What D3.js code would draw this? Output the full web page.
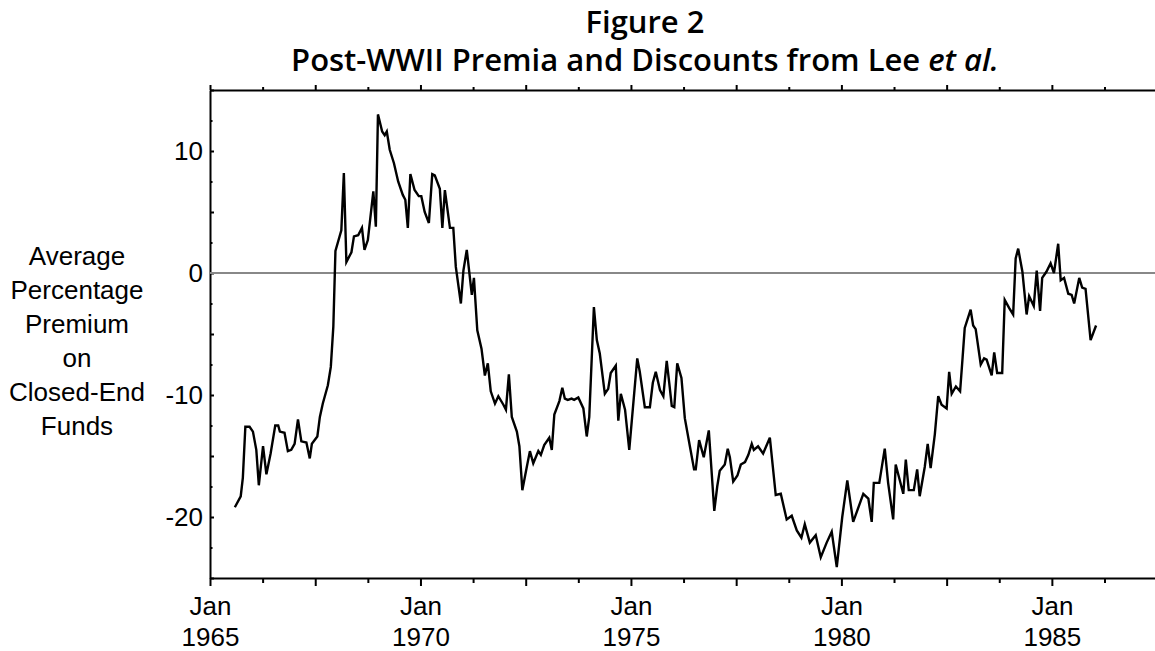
<!DOCTYPE html>
<html>
<head>
<meta charset="utf-8">
<script src="https://cdn.jsdelivr.net/npm/d3@7"></script>
<style>
  body { margin: 0; background: #fff; }
  svg { display: block; }
  .axis path, .axis line { stroke: #000; stroke-width: 2; }
  .axis text { font-family: "Liberation Sans", Arial, sans-serif; font-size: 26px; fill: #000; }
</style>
</head>
<body>
<svg id="chart" width="1155" height="651"></svg>
<script>
// decimal year of each point
var years = [1965.59, 1965.73, 1965.78, 1965.84, 1965.94, 1966.02, 1966.10, 1966.16, 1966.26, 1966.34,
  1966.44, 1966.55, 1966.62, 1966.66, 1966.77, 1966.85, 1966.93, 1967.01, 1967.09, 1967.17,
  1967.29, 1967.37, 1967.42, 1967.55, 1967.61, 1967.68, 1967.80, 1967.87, 1967.93, 1967.98,
  1968.12, 1968.18, 1968.24, 1968.36, 1968.42, 1968.52, 1968.61, 1968.67, 1968.75, 1968.88,
  1968.94, 1968.99, 1969.09, 1969.15, 1969.20, 1969.27, 1969.37, 1969.47, 1969.58, 1969.64,
  1969.70, 1969.76, 1969.86, 1969.96, 1970.02, 1970.10, 1970.20, 1970.28, 1970.34, 1970.46,
  1970.52, 1970.58, 1970.70, 1970.78, 1970.84, 1970.96, 1971.02, 1971.10, 1971.22, 1971.27,
  1971.35, 1971.45, 1971.53, 1971.60, 1971.67, 1971.77, 1971.85, 1971.97, 1972.03, 1972.10,
  1972.17, 1972.29, 1972.35, 1972.42, 1972.52, 1972.60, 1972.68, 1972.80, 1972.86, 1972.94,
  1973.06, 1973.12, 1973.18, 1973.30, 1973.37, 1973.43, 1973.50, 1973.59, 1973.65, 1973.75,
  1973.87, 1973.95, 1974.01, 1974.12, 1974.19, 1974.26, 1974.38, 1974.46, 1974.52, 1974.64,
  1974.70, 1974.76, 1974.86, 1974.96, 1975.15, 1975.21, 1975.33, 1975.45, 1975.52, 1975.59,
  1975.69, 1975.77, 1975.85, 1975.91, 1975.97, 1976.03, 1976.10, 1976.20, 1976.28, 1976.40,
  1976.50, 1976.54, 1976.62, 1976.73, 1976.85, 1976.98, 1977.05, 1977.11, 1977.23, 1977.30,
  1977.35, 1977.43, 1977.53, 1977.61, 1977.71, 1977.79, 1977.87, 1977.92, 1978.02, 1978.14,
  1978.30, 1978.44, 1978.56, 1978.70, 1978.82, 1978.94, 1979.05, 1979.13, 1979.25, 1979.39,
  1979.51, 1979.65, 1979.77, 1979.89, 1980.02, 1980.14, 1980.28, 1980.52, 1980.64, 1980.72,
  1980.77, 1980.90, 1981.03, 1981.11, 1981.23, 1981.29, 1981.47, 1981.53, 1981.60, 1981.72,
  1981.80, 1981.86, 1981.98, 1982.05, 1982.12, 1982.22, 1982.30, 1982.38, 1982.50, 1982.56,
  1982.62, 1982.72, 1982.82, 1982.88, 1982.93, 1983.07, 1983.13, 1983.19, 1983.31, 1983.39,
  1983.45, 1983.57, 1983.63, 1983.70, 1983.82, 1983.88, 1983.99, 1984.08, 1984.14, 1984.20,
  1984.30, 1984.40, 1984.46, 1984.57, 1984.64, 1984.72, 1984.77, 1984.87, 1984.97, 1985.05,
  1985.15, 1985.21, 1985.29, 1985.39, 1985.47, 1985.53, 1985.65, 1985.72, 1985.80, 1985.92,
  1986.05];

// average percentage premium at each of those points
var premium = [-19.2, -18.3, -16.8, -12.6, -12.6, -13.0, -14.5, -17.4, -14.2, -16.5,
  -14.8, -12.5, -12.5, -13.0, -13.1, -14.6, -14.5, -14.0, -12.0, -13.8,
  -13.9, -15.2, -14.0, -13.4, -11.8, -10.7, -9.2, -7.7, -4.4, 1.8,
  3.5, 8.2, 0.9, 1.7, 3.0, 3.1, 3.7, 1.9, 2.7, 6.7,
  3.8, 13.0, 11.6, 11.3, 11.6, 10.1, 9.0, 7.5, 6.4, 6.0,
  3.7, 8.1, 6.8, 6.3, 6.3, 5.0, 4.1, 8.1, 8.0, 6.9,
  3.7, 6.8, 3.7, 3.7, 0.5, -2.5, 0.2, 1.9, -1.8, -0.4,
  -4.7, -6.2, -8.4, -7.4, -9.7, -10.7, -10.1, -10.8, -11.2, -8.3,
  -11.8, -13.0, -14.2, -17.8, -16.0, -14.6, -15.6, -14.6, -14.9, -14.1,
  -13.5, -14.5, -11.6, -10.5, -9.4, -10.3, -10.4, -10.3, -10.4, -10.2,
  -11.1, -13.4, -11.8, -2.8, -5.5, -6.6, -9.9, -9.5, -8.2, -7.6,
  -12.1, -9.9, -11.2, -14.5, -7.0, -8.1, -11.0, -11.0, -9.0, -8.1,
  -9.6, -10.1, -7.2, -9.0, -10.9, -11.0, -7.4, -8.6, -11.9, -14.2,
  -16.1, -16.1, -13.7, -15.1, -12.9, -19.5, -17.5, -16.2, -15.7, -14.4,
  -15.1, -17.1, -16.6, -15.7, -15.5, -14.9, -14.0, -14.5, -14.2, -14.8,
  -13.5, -18.2, -18.1, -20.2, -19.9, -21.1, -21.7, -20.6, -22.1, -21.5,
  -23.3, -22.1, -21.2, -24.1, -20.0, -17.0, -20.4, -18.1, -18.5, -20.4,
  -17.2, -17.2, -14.4, -17.2, -20.2, -15.7, -18.1, -15.3, -17.8, -17.8,
  -16.1, -18.3, -15.9, -14.0, -16.0, -13.2, -10.1, -10.8, -11.1, -8.1,
  -9.9, -9.3, -9.7, -6.9, -4.5, -3.0, -4.3, -4.6, -7.5, -7.0,
  -7.1, -8.4, -6.5, -8.2, -8.2, -2.2, -2.9, -3.4, 1.2, 2.0,
  0.1, -3.4, -1.9, -2.7, 0.2, -3.1, -0.4, 0.1, 0.8, 0.0,
  2.4, -0.6, -0.4, -1.7, -1.8, -2.5, -0.4, -1.2, -1.3, -5.5,
  -4.3];

var xLabelYears = [1965, 1970, 1975, 1980, 1985];
var yLabelValues = [10, 0, -10, -20];
var yTitleLines = ["Average", "Percentage", "Premium", "on", "Closed-End", "Funds"];

var plotLeft = 210, plotRight = 1155, plotTop = 90, plotBottom = 578;

var svg = d3.select("#chart");

var x = d3.scaleLinear().domain([1965, 1987.45]).range([plotLeft, plotRight]);
var y = d3.scaleLinear().domain([-25, 15]).range([plotBottom, plotTop]);

var xTicks = d3.range(1965, 1987.3, 1.25);
var yTicks = d3.range(-25, 15.1, 2.5);

//bottom axis, ticks outward
var gx = svg.append("g")
  .attr("class", "axis")
  .attr("transform", "translate(0," + plotBottom + ")")
  .call(d3.axisBottom(x).tickValues(xTicks).tickSizeInner(5).tickSizeOuter(0).tickFormat(""));
gx.selectAll(".tick line").attr("y2", function (d, i) { return i % 2 === 0 ? 8 : 5; });
gx.selectAll(".tick").filter(function (d) { return xLabelYears.indexOf(d) >= 0; })
  .append("text")
  .attr("text-anchor", "middle")
  .each(function (d) {
    var t = d3.select(this);
    t.append("tspan").attr("x", 0).attr("y", 37).text("Jan");
    t.append("tspan").attr("x", 0).attr("y", 68).text(d);
  });

//top frame with ticks pointing up
var gt = svg.append("g")
  .attr("class", "axis")
  .attr("transform", "translate(0," + plotTop + ")")
  .call(d3.axisTop(x).tickValues(xTicks).tickSizeInner(3).tickSizeOuter(0).tickFormat(""));
gt.selectAll(".tick line").attr("y2", function (d, i) { return i % 2 === 0 ? -5 : -3; });

//left axis, ticks inward
var gy = svg.append("g")
  .attr("class", "axis")
  .attr("transform", "translate(" + plotLeft + ",0)")
  .call(d3.axisLeft(y).tickValues(yTicks).tickSizeInner(-4).tickSizeOuter(0).tickPadding(7)
    .tickFormat(function (d) { return yLabelValues.indexOf(d) >= 0 ? d : ""; }));
gy.selectAll(".tick line").attr("x2", function (d) { return d % 5 === 0 ? 4 : 2.5; });

// zero reference line
svg.append("line")
  .attr("x1", plotLeft).attr("x2", plotRight)
  .attr("y1", y(0)).attr("y2", y(0))
  .attr("stroke", "#888")
  .attr("stroke-width", 2.2);

var series = years.map(function (d, i) { return [d, premium[i]]; });
svg.append("path")
  .datum(series)
  .attr("fill", "none")
  .attr("stroke", "#000")
  .attr("stroke-width", 2.4)
  .attr("d", d3.line().x(function (d) { return x(d[0]); }).y(function (d) { return y(d[1]); }));

// y title
svg.append("text")
  .attr("text-anchor", "middle")
  .style("font-family", "'Liberation Sans', Arial, sans-serif")
  .style("font-size", "26px")
  .selectAll("tspan")
  .data(yTitleLines)
  .enter().append("tspan")
  .attr("x", 77)
  .attr("y", function (d, i) { return 265 + i * 34; })
  .text(function (d) { return d; });

// title
var title = svg.append("g")
  .style("font-family", "'Open Sans', Lato, sans-serif")
  .style("font-weight", "600")
  .style("font-size", "26px")
  .attr("text-anchor", "middle");
var t1 = title.append("text").attr("x", 645).attr("y", 33).text("Figure 2");
var t2 = title.append("text").attr("x", 645).attr("y", 71);
t2.append("tspan").text("Post-WWII Premia and Discounts from Lee ");
t2.append("tspan").style("font-style", "italic").text("et al.");
// fit second title line to the width it has in the figure
var fitSize = 26 * 708 / t2.node().getComputedTextLength();
title.style("font-size", fitSize + "px");
</script>
</body>
</html>
